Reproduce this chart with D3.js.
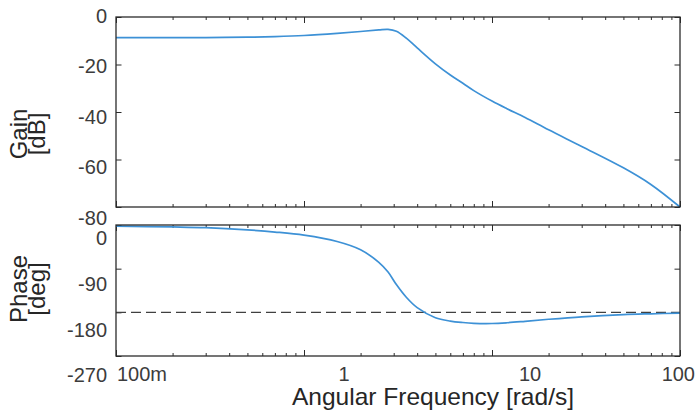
<!DOCTYPE html>
<html>
<head>
<meta charset="utf-8">
<script src="https://cdn.jsdelivr.net/npm/d3@7/dist/d3.min.js"></script>
<style>
  html, body { margin: 0; padding: 0; background: #fff; }
  svg { display: block; font-family: "Liberation Sans", Arial, sans-serif; }
</style>
</head>
<body>
<svg id="chart" width="696" height="410"></svg>
<script>
// ---- data ----
const freq     = [0.1, 0.2, 0.3, 0.5, 0.7, 1, 1.5, 2, 2.5, 2.8, 3.1, 3.5, 4, 5, 6, 7, 8, 10, 12, 15, 20, 30, 50, 70, 100];
const gainDb   = [-8.7, -8.7, -8.65, -8.5, -8.25, -7.8, -6.9, -6.1, -5.45, -5.2, -6.0, -8.9, -13.0, -19.7, -24.4, -27.9, -31.0, -35.4, -38.6, -42.3, -47.5, -54.5, -63.5, -70.5, -80];
const phaseDeg = [-2.5, -4, -5.5, -10, -14.5, -21, -34, -51, -77, -97, -122.8, -149, -170.4, -191, -198, -201, -202.6, -203, -201.5, -198.5, -194.3, -189.2, -184.7, -183, -181.5];
const refPhase = -180;
const gainTicks = [0, -20, -40, -60, -80];
const phaseTicks = [0, -90, -180, -270];
const freqMajor = [0.1, 1, 10, 100];
const freqLabels = ["100m", "1", "10", "100"];
const gainTitle = ["Gain", "[dB]"];
const phaseTitle = ["Phase", "[deg]"];
const xTitle = "Angular Frequency [rad/s]";

// ---- layout ----
const svg = d3.select("#chart");
const L = 116, R = 680;
const gTop = 17, gBot = 207, pTop = 225, pBot = 356;
const frameColor = "#2b2b2b", labelColor = "#3c3c3c", titleColor = "#262626";
const lineColor = "#3d91d6";

const x = d3.scaleLog().domain([0.1, 100]).range([L, R]);
const yG = d3.scaleLinear().domain([0, -80]).range([gTop, gBot]);
const yP = d3.scaleLinear().domain([0, -270]).range([pTop, pBot]);
// label placement scales (labels in the reference sit slightly off their ticks)
const yGLab = d3.scaleLinear().domain([0, -80]).range([15.5, 217.5]);
const yPLab = d3.scaleLinear().domain([0, -270]).range([238, 375]);

const minor = x.ticks().filter(v => !freqMajor.some(m => Math.abs(m - v) < 1e-9));

function panel(yScale, top, bot, yTicks) {
  const g = svg.append("g");
  const mk = (axisFn, ty, vals, size) => {
    g.append("g").attr("transform", `translate(0,${ty})`)
      .call(axisFn(x).tickValues(vals).tickSize(size).tickFormat(""))
      .call(s => s.select(".domain").remove())
      .call(s => s.selectAll("line").attr("stroke", frameColor).attr("stroke-width", 1));
  };
  mk(d3.axisBottom, top, minor, 3);
  mk(d3.axisBottom, top, freqMajor, 6);
  mk(d3.axisTop, bot, minor, 3);
  mk(d3.axisTop, bot, freqMajor, 6);
  g.append("g").attr("transform", `translate(${L},0)`)
    .call(d3.axisRight(yScale).tickValues(yTicks).tickSize(5.5).tickFormat(""))
    .call(s => s.select(".domain").remove())
    .call(s => s.selectAll("line").attr("stroke", frameColor));
  g.append("g").attr("transform", `translate(${R},0)`)
    .call(d3.axisLeft(yScale).tickValues(yTicks).tickSize(5.5).tickFormat(""))
    .call(s => s.select(".domain").remove())
    .call(s => s.selectAll("line").attr("stroke", frameColor));
  return g;
}

function frame(top, bot) {
  svg.append("rect").attr("x", L).attr("y", top).attr("width", R - L).attr("height", bot - top)
    .attr("fill", "none").attr("stroke", frameColor).attr("stroke-width", 1.3);
}

const line = yScale => d3.line().x(d => x(d[0])).y(d => yScale(d[1])).curve(d3.curveCatmullRom.alpha(0.5));

// gain panel
panel(yG, gTop, gBot, gainTicks);
svg.append("path")
  .datum(freq.map((f, i) => [f, gainDb[i]]))
  .attr("fill", "none").attr("stroke", lineColor).attr("stroke-width", 1.7)
  .attr("d", line(yG));
frame(gTop, gBot);

// phase panel
panel(yP, pTop, pBot, phaseTicks);
svg.append("line")
  .attr("x1", L).attr("x2", R).attr("y1", yP(refPhase)).attr("y2", yP(refPhase))
  .attr("stroke", "#404040").attr("stroke-width", 1.4).attr("stroke-dasharray", "10,5");
svg.append("path")
  .datum(freq.map((f, i) => [f, phaseDeg[i]]))
  .attr("fill", "none").attr("stroke", lineColor).attr("stroke-width", 1.7)
  .attr("d", line(yP));
frame(pTop, pBot);

// y tick labels
svg.append("g").selectAll("text").data(gainTicks).join("text")
  .attr("x", 107).attr("y", d => yGLab(d)).attr("dy", "0.36em")
  .attr("text-anchor", "end").attr("font-size", 20).attr("fill", labelColor)
  .text(d => d);
svg.append("g").selectAll("text").data(phaseTicks).join("text")
  .attr("x", 107).attr("y", d => yPLab(d)).attr("dy", "0.36em")
  .attr("text-anchor", "end").attr("font-size", 20).attr("fill", labelColor)
  .text(d => d);

// x tick labels
const xLabPos = [
  { dx: 1, anchor: "start" },
  { dx: 40, anchor: "middle" },
  { dx: 38, anchor: "middle" },
  { dx: 15, anchor: "end" }
];
svg.append("g").selectAll("text").data(freqMajor).join("text")
  .attr("x", (d, i) => x(d) + xLabPos[i].dx).attr("y", 381)
  .attr("text-anchor", (d, i) => xLabPos[i].anchor)
  .attr("font-size", 20).attr("fill", labelColor)
  .text((d, i) => freqLabels[i]);

// axis titles
function yTitle(lines, cx, cy) {
  const t = svg.append("text").attr("transform", `translate(${cx},${cy}) rotate(-90)`)
    .attr("text-anchor", "middle").attr("font-size", 24).attr("fill", titleColor);
  lines.forEach((s, i) => t.append("tspan").attr("x", 0).attr("y", i * 18).text(s));
}
yTitle(gainTitle, 27, 134);
yTitle(phaseTitle, 27, 289);

svg.append("text").attr("x", 433).attr("y", 405).attr("text-anchor", "middle")
  .attr("font-size", 24).attr("fill", titleColor)
  .attr("textLength", 282).attr("lengthAdjust", "spacingAndGlyphs")
  .text(xTitle);
</script>
</body>
</html>
